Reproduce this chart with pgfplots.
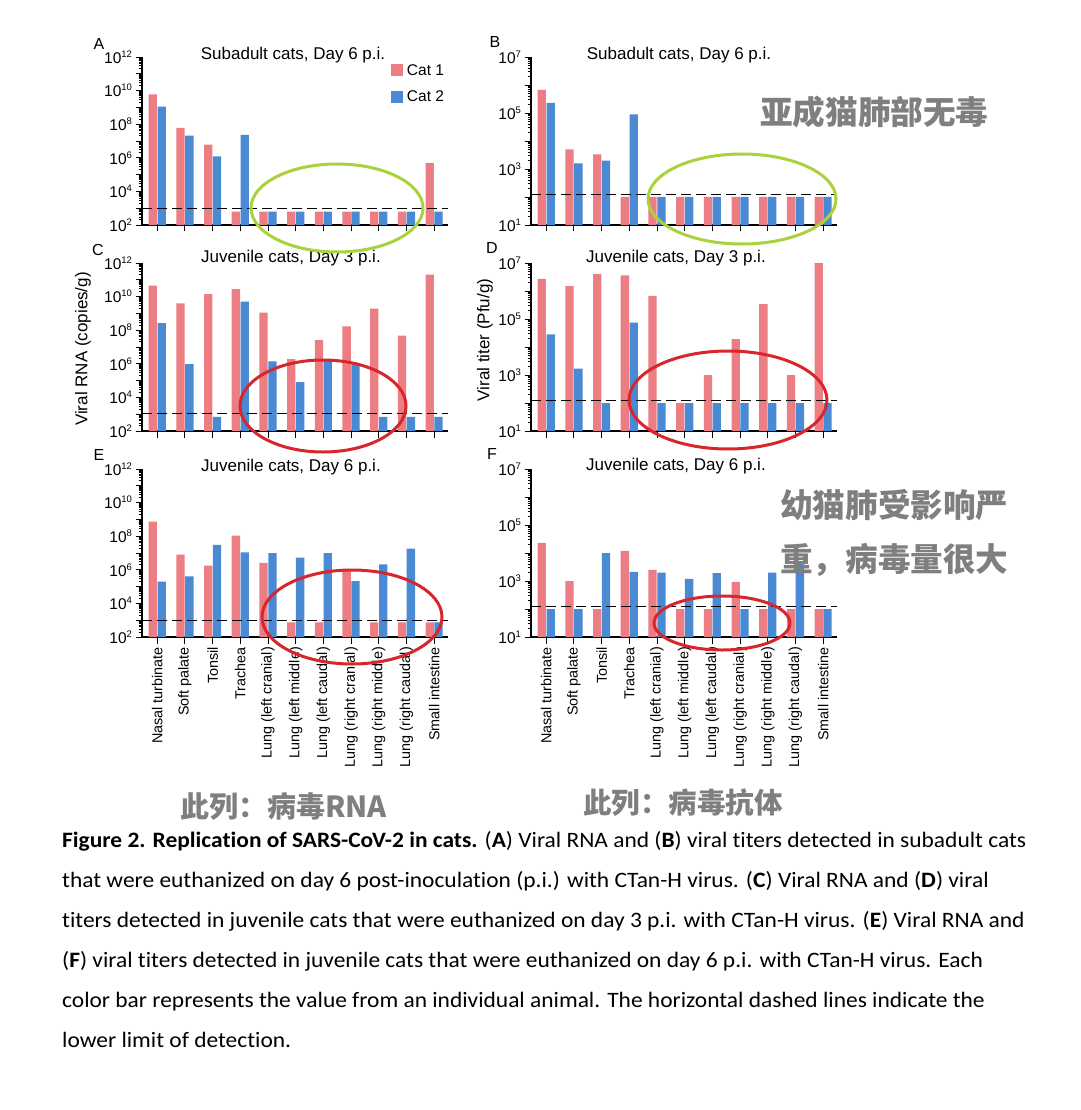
\documentclass[border=0pt]{standalone}
\usepackage{fontspec}
\setmainfont{Liberation Sans}
\newfontfamily\capfont{Carlito}[FakeStretch=1.065, Ligatures=NoCommon]
\newfontfamily\cjk{Noto Sans CJK SC}
\usepackage{pgfplots}
\pgfplotsset{compat=1.18}

\definecolor{catred}{HTML}{EC7D83}
\definecolor{catblue}{HTML}{4A89D4}
\definecolor{ringred}{HTML}{D7262C}
\definecolor{ringgreen}{HTML}{AAD23C}
\definecolor{notegray}{HTML}{7F7F7F}

% 10^n tick label with a small raised exponent
\newcommand\pw[1]{10\raisebox{6pt}{\fontsize{9.5}{10}\selectfont #1}}

\pgfplotsset{
  mybase/.style={
    scale only axis, width=306pt, height=168pt,
    log origin=infty,
    xmin=-0.55, xmax=10.5,
    axis lines*=left,
    xtick={0,...,10}, xticklabels={},
    tick align=outside,
    major tick length=6.5pt, minor tick length=3.5pt,
    axis line style={line width=1.4pt},
    every tick/.style={black, line width=0.9pt},
    tick label style={font=\fontsize{15.5}{16}\selectfont},
  },
  myrna/.style={mybase, ymin=1e2, ymax=1e12, ytickten={2,...,12},
    yticklabels={\pw{2},{},\pw{4},{},\pw{6},{},\pw{8},{},\pw{10},{},\pw{12}},
    minor ytick={2e2,3e2,4e2,5e2,6e2,7e2,8e2,9e2,
      2e3,3e3,4e3,5e3,6e3,7e3,8e3,9e3,
      2e4,3e4,4e4,5e4,6e4,7e4,8e4,9e4,
      2e5,3e5,4e5,5e5,6e5,7e5,8e5,9e5,
      2e6,3e6,4e6,5e6,6e6,7e6,8e6,9e6,
      2e7,3e7,4e7,5e7,6e7,7e7,8e7,9e7,
      2e8,3e8,4e8,5e8,6e8,7e8,8e8,9e8,
      2e9,3e9,4e9,5e9,6e9,7e9,8e9,9e9,
      2e10,3e10,4e10,5e10,6e10,7e10,8e10,9e10,
      2e11,3e11,4e11,5e11,6e11,7e11,8e11,9e11}},
  mytiter/.style={mybase, ymin=1e1, ymax=1e7, ytickten={1,...,7},
    yticklabels={\pw{1},{},\pw{3},{},\pw{5},{},\pw{7}},
    minor ytick={2e1,3e1,4e1,5e1,6e1,7e1,8e1,9e1,
      2e2,3e2,4e2,5e2,6e2,7e2,8e2,9e2,
      2e3,3e3,4e3,5e3,6e3,7e3,8e3,9e3,
      2e4,3e4,4e4,5e4,6e4,7e4,8e4,9e4,
      2e5,3e5,4e5,5e5,6e5,7e5,8e5,9e5,
      2e6,3e6,4e6,5e6,6e6,7e6,8e6,9e6}},
  myorgans/.style={
    xticklabels={Nasal turbinate, Soft palate, Tonsil, Trachea, Lung (left cranial), Lung (left middle), Lung (left caudal), Lung (right cranial), Lung (right middle), Lung (right caudal), Small intestine},
    xticklabel style={rotate=90, anchor=east, font=\fontsize{14.4}{15}\selectfont},
  },
  cat1/.style={ybar, bar width=0.3, bar shift=-0.16, fill=catred, draw=none,
    legend image code/.code={\fill[catred] (0pt,-6pt) rectangle (12pt,6pt);}},
  cat2/.style={ybar, bar width=0.3, bar shift=0.16, fill=catblue, draw=none,
    legend image code/.code={\fill[catblue] (0pt,-6pt) rectangle (12pt,6pt);}},
  lod/.style={sharp plot, black, line width=1.3pt, dash pattern=on 10pt off 5pt, forget plot},
}

\begin{document}
\begin{tikzpicture}
\fill[white] (0,0) rectangle (1080pt,-1110pt);

% A: viral RNA, subadult cats, day 6
\begin{axis}[ymode=log, myrna, at={(142pt,-225pt)}, anchor=south west,
  legend style={at={(0.813,0.97)}, anchor=north west, draw=none, fill=none,
    font=\fontsize{15.5}{16}\selectfont, row sep=10pt, inner sep=0pt,
    /tikz/every odd column/.append style={column sep=2pt}},
  legend cell align=left]
\addplot[cat1] coordinates {(0,6e9) (1,6e7) (2,6e6) (3,630) (4,630) (5,630) (6,630) (7,630) (8,630) (9,630) (10,5e5)};
\addplot[cat2] coordinates {(0,1.1e9) (1,2.1e7) (2,1.2e6) (3,2.3e7) (4,630) (5,630) (6,630) (7,630) (8,630) (9,630) (10,630)};
\addplot[lod] coordinates {(-0.55,1000) (10.5,1000)};
\legend{Cat 1, Cat 2}
\end{axis}

% B: viral titer, subadult cats, day 6
\begin{axis}[ymode=log, mytiter, at={(531pt,-225pt)}, anchor=south west]
\addplot[cat1] coordinates {(0,6.7e5) (1,5000) (2,3300) (3,100) (4,100) (5,100) (6,100) (7,100) (8,100) (9,100) (10,100)};
\addplot[cat2] coordinates {(0,2.3e5) (1,1600) (2,2000) (3,9e4) (4,100) (5,100) (6,100) (7,100) (8,100) (9,100) (10,100)};
\addplot[lod] coordinates {(-0.55,120) (10.5,120)};
\end{axis}

% C: viral RNA, juvenile cats, day 3
\begin{axis}[ymode=log, myrna, at={(142pt,-431pt)}, anchor=south west]
\addplot[cat1] coordinates {(0,4.5e10) (1,4e9) (2,1.4e10) (3,2.8e10) (4,1.1e9) (5,1.9e6) (6,2.6e7) (7,1.7e8) (8,1.9e9) (9,4.8e7) (10,2e11)};
\addplot[cat2] coordinates {(0,2.6e8) (1,9.6e5) (2,700) (3,5e9) (4,1.4e6) (5,8e4) (6,1.9e6) (7,1.1e6) (8,700) (9,700) (10,700)};
\addplot[lod] coordinates {(-0.55,1100) (10.5,1100)};
\end{axis}

% D: viral titer, juvenile cats, day 3
\begin{axis}[ymode=log, mytiter, at={(531pt,-431pt)}, anchor=south west]
\addplot[cat1] coordinates {(0,2.7e6) (1,1.5e6) (2,4e6) (3,3.6e6) (4,6.7e5) (5,100) (6,1000) (7,1.9e4) (8,3.4e5) (9,1000) (10,1e7)};
\addplot[cat2] coordinates {(0,2.8e4) (1,1700) (2,100) (3,7.4e4) (4,100) (5,100) (6,100) (7,100) (8,100) (9,100) (10,100)};
\addplot[lod] coordinates {(-0.55,125) (10.5,125)};
\end{axis}

% E: viral RNA, juvenile cats, day 6
\begin{axis}[ymode=log, myrna, myorgans, at={(142pt,-637pt)}, anchor=south west]
\addplot[cat1] coordinates {(0,7.4e8) (1,8e6) (2,1.8e6) (3,1.1e8) (4,2.6e6) (5,740) (6,740) (7,8.3e5) (8,740) (9,740) (10,740)};
\addplot[cat2] coordinates {(0,2e5) (1,4e5) (2,3e7) (3,1.1e7) (4,1e7) (5,5.4e6) (6,9.8e6) (7,2.1e5) (8,2.1e6) (9,1.8e7) (10,740)};
\addplot[lod] coordinates {(-0.55,1000) (10.5,1000)};
\end{axis}

% F: viral titer, juvenile cats, day 6
\begin{axis}[ymode=log, mytiter, myorgans, at={(531pt,-637pt)}, anchor=south west]
\addplot[cat1] coordinates {(0,2.3e4) (1,1000) (2,100) (3,1.2e4) (4,2500) (5,100) (6,100) (7,930) (8,100) (9,100) (10,100)};
\addplot[cat2] coordinates {(0,100) (1,100) (2,1e4) (3,2100) (4,2000) (5,1200) (6,1900) (7,100) (8,2000) (9,4000) (10,100)};
\addplot[lod] coordinates {(-0.55,125) (10.5,125)};
\end{axis}

% panel titles and letters
\begin{scope}[every node/.style={font=\fontsize{17}{18}\selectfont, inner sep=0pt}]
\node at (293pt,-55pt) {Subadult cats, Day 6 p.i.};
\node at (679pt,-55pt) {Subadult cats, Day 6 p.i.};
\node at (291pt,-258pt) {Juvenile cats, Day 3 p.i.};
\node at (676pt,-258pt) {Juvenile cats, Day 3 p.i.};
\node at (291pt,-467pt) {Juvenile cats, Day 6 p.i.};
\node at (676pt,-466pt) {Juvenile cats, Day 6 p.i.};
\node[rotate=90] at (83pt,-349pt) {Viral RNA (copies/g)};
\node[rotate=90] at (485pt,-340pt) {Viral titer (Pfu/g)};
\end{scope}
\begin{scope}[every node/.style={font=\fontsize{16}{17}\selectfont, inner sep=0pt}]
\node at (99pt,-44pt) {A};
\node at (495pt,-42pt) {B};
\node at (98pt,-250pt) {C};
\node at (492pt,-248pt) {D};
\node at (99pt,-455pt) {E};
\node at (492pt,-454pt) {F};
\end{scope}

% hand-drawn rings
\draw[ringgreen, line width=3pt] (337pt,-208pt) ellipse [x radius=86pt, y radius=44pt];
\draw[ringgreen, line width=3pt] (742pt,-199pt) ellipse [x radius=94pt, y radius=45pt];
\draw[ringred, line width=3pt] (323pt,-406pt) ellipse [x radius=83pt, y radius=46pt];
\draw[ringred, line width=3pt] (728pt,-400pt) ellipse [x radius=99pt, y radius=49pt];
\draw[ringred, line width=3pt] (352pt,-617pt) ellipse [x radius=90pt, y radius=47pt];
\draw[ringred, line width=3pt] (722pt,-623pt) ellipse [x radius=68pt, y radius=27pt];

% Chinese notes
\begin{scope}[every node/.style={text=notegray, inner sep=0pt, anchor=west}]
\node[font=\cjk\bfseries\fontsize{32.6}{34}\selectfont] at (760pt,-112pt) {亚成猫肺部无毒};
\node[font=\cjk\bfseries\fontsize{32.6}{34}\selectfont] at (780pt,-505pt) {幼猫肺受影响严};
\node[font=\cjk\bfseries\fontsize{32.6}{34}\selectfont] at (780pt,-560pt) {重，病毒量很大};
\node[font=\cjk\bfseries\fontsize{29}{30}\selectfont] at (180pt,-806pt) {此列：病毒RNA};
\node[font=\cjk\bfseries\fontsize{28.5}{30}\selectfont] at (583pt,-803pt) {此列：病毒抗体};
\end{scope}

% caption
\begin{scope}[every node/.style={anchor=base west, inner sep=0pt, font=\capfont\fontsize{22}{24}\selectfont}]
\node at (62pt,-847pt) {\textbf{Figure 2. Replication of SARS-CoV-2 in cats.} (\textbf{A}) Viral RNA and (\textbf{B}) viral titers detected in subadult cats};
\node at (62pt,-887pt) {that were euthanized on day 6 post-inoculation (p.i.) with CTan-H virus. (\textbf{C}) Viral RNA and (\textbf{D}) viral};
\node at (62pt,-927pt) {titers detected in juvenile cats that were euthanized on day 3 p.i. with CTan-H virus. (\textbf{E}) Viral RNA and};
\node at (62pt,-967pt) {(\textbf{F}) viral titers detected in juvenile cats that were euthanized on day 6 p.i. with CTan-H virus. Each};
\node at (62pt,-1007pt) {color bar represents the value from an individual animal. The horizontal dashed lines indicate the};
\node at (62pt,-1047pt) {lower limit of detection.};
\end{scope}

\pgfresetboundingbox
\path (0,0) rectangle (1080pt,-1110pt);
\end{tikzpicture}
\end{document}
